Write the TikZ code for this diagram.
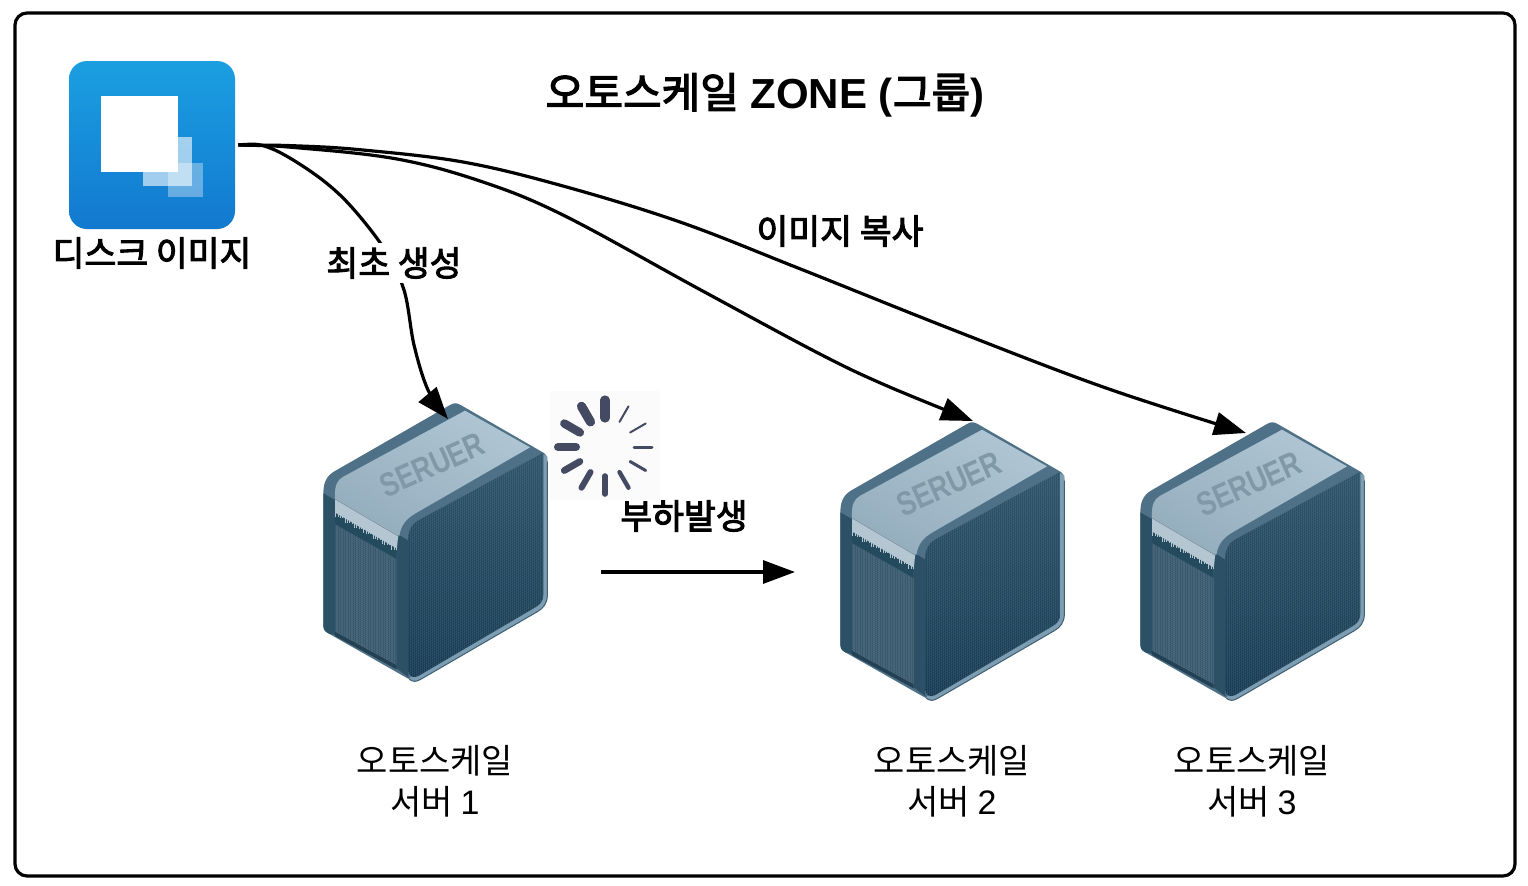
\documentclass[tikz,border=0pt]{standalone}
\usepackage{fontspec}
\setmainfont{Liberation Sans}
\newfontfamily\kr{Noto Sans CJK KR}
\newfontfamily\krb[FakeBold=3]{Noto Sans CJK KR}
\usetikzlibrary{arrows.meta}
\definecolor{spk}{HTML}{454A63}
\tikzset{
  conn/.style={line width=1.6pt,-{Triangle[length=16pt,width=11.5pt]}},
  lab/.style={font=\fontsize{17}{20.5}\selectfont\kr,align=center,inner sep=0pt,text=black},
  blab/.style={font=\fontsize{17.3}{20.5}\selectfont\krb,inner sep=1pt,text=black},
  mesh/.style={white,opacity=.07,line width=.25pt},
}
\newcommand{\srv}[3]{%
\node[minimum width=112pt,minimum height=139pt,inner sep=0pt] (#1) at (#2+435,#3+542) {};
\begin{scope}[shift={(#2+300,#3+390)},x=0.16667pt,y=-0.16667pt]
 % silhouette
 \fill[srvband]
  (70,310) .. controls (70,270) and (85,255) .. (105,243) -- (450,45)
  .. controls (462,38) and (470,38) .. (482,45) -- (725,185)
  .. controls (738,192) and (742,198) .. (742,212) -- (742,615)
  .. controls (742,640) and (730,655) .. (712,665) -- (362,868)
  .. controls (348,876) and (340,876) .. (328,868) -- (85,730)
  .. controls (74,724) and (70,718) .. (70,705) -- cycle;
 % right rim
 \fill[srvrim] (725,190) -- (742,200) -- (742,615) .. controls (742,640) and (730,655) .. (712,665)
  -- (362,868) .. controls (348,876) and (340,876) .. (328,866) -- (340,850) -- (725,625) -- cycle;
 \draw[srvedge,line width=.5pt] (742,215) -- (742,615) .. controls (742,640) and (730,655) .. (712,665)
  -- (362,868) .. controls (348,876) and (340,876) .. (328,868);
 % right face
 \shade[top color=srvfaceA,bottom color=srvfaceB]
  (325,450) .. controls (325,420) and (335,403) .. (352,393) -- (730,188) -- (730,612)
  .. controls (730,632) and (722,643) .. (706,652) -- (355,858) .. controls (340,866) and (325,860) .. (325,840) -- cycle;
 \begin{scope}
  \clip (325,450) .. controls (325,420) and (335,403) .. (352,393) -- (730,188) -- (730,612)
  .. controls (730,632) and (722,643) .. (706,652) -- (355,858) .. controls (340,866) and (325,860) .. (325,840) -- cycle;
  \foreach \gx in {325,331,...,733} \draw[mesh] (\gx,150) -- (\gx,880);
  \foreach \gy in {400,408,...,1120} \draw[mesh] (325,\gy) -- (733,\gy-238);
 \end{scope}
 % left columns
 \fill[srvdark] (70,310) -- (105,330) -- (105,735) -- (85,730) .. controls (74,724) and (70,718) .. (70,705) -- cycle;
 \fill[srvdark] (290,430) -- (325,452) -- (325,862) -- (290,835) -- cycle;
 \fill[srvdark!80!black] (105,725) -- (290,825) -- (290,838) -- (105,738) -- cycle;
 % grille
 \fill[srvgrille] (105,400) -- (290,505) -- (290,825) -- (105,725) -- cycle;
 \begin{scope}
  \clip (105,400) -- (290,505) -- (290,825) -- (105,725) -- cycle;
  \foreach \gx in {108,113,...,290} \draw[mesh] (\gx,380) -- (\gx,840);
  \foreach \gy in {300,306,...,740} \draw[mesh] (105,\gy) -- (290,\gy+105);
 \end{scope}
 % light strip beneath top
 \fill[srvpale] (105,315) -- (295,432) -- (290,482) -- (105,372) -- cycle;
 % vent
 \fill[srvvent] (105,368) -- (290,476) -- (290,507) -- (105,402) -- cycle;
 \foreach \gx in {107,114,...,289} \draw[srvpale,line width=.4pt] (\gx,{366+(\gx-105)*.583}) -- (\gx,{366+(\gx-105)*.583+5+mod(\gx,4)*3});
 % top light face
 \shade[top color=srvtopA,bottom color=srvtopB,shading angle=-30]
  (105,325) .. controls (103,285) and (112,270) .. (130,260) -- (495,62) -- (690,172) -- (350,368)
  .. controls (318,386) and (303,405) .. (298,438) -- cycle;
 \draw[srvtopB!80!black,line width=.3pt] (105,327) -- (296,439);
 \node[rotate=24,inner sep=0pt,text=srvtxt,font=\fontsize{14}{14}\selectfont\bfseries,xscale=.95,yscale=1.2] (#1txt) at (396,225) {SERUER};
\end{scope}}
\definecolor{srvband}{HTML}{4F7187}
\definecolor{srvrim}{HTML}{7C9DB2}
\definecolor{srvedge}{HTML}{3F5F73}
\definecolor{srvfaceA}{HTML}{2B5268}
\definecolor{srvfaceB}{HTML}{143A52}
\definecolor{srvdark}{HTML}{2C5167}
\definecolor{srvgrille}{HTML}{34566A}
\definecolor{srvpale}{HTML}{B4C6D1}
\definecolor{srvvent}{HTML}{244A5E}
\definecolor{srvtopA}{HTML}{AFC5D3}
\definecolor{srvtopB}{HTML}{95AEBE}
\definecolor{srvtxt}{HTML}{8198A9}
\definecolor{dtop}{HTML}{1B9FE1}
\definecolor{dbot}{HTML}{1279CF}
\begin{document}
\begin{tikzpicture}[x=0.5pt,y=-0.5pt]
\useasboundingbox (0,0) rectangle (1528,885);
\fill[white] (0,0) rectangle (1528,885);
\node[draw=black,line width=1.6pt,rounded corners=6pt,minimum width=750pt,minimum height=431.5pt,inner sep=0pt] (zone) at (765,444.5) {};
% disk image
\node[rounded corners=9pt,top color=dtop,bottom color=dbot,minimum width=83pt,minimum height=84pt,inner sep=0pt] (disk) at (152,145) {};
\fill[white,opacity=.6] (143,137) rectangle (192,186);
\fill[white,opacity=.35] (168,163) rectangle (203,197);
\fill[white] (101,96) rectangle (178,172);
\node[blab] (disklab) at (152,253) {디스크 이미지};
\node[font=\fontsize{21}{24}\selectfont\bfseries,inner sep=0pt] (title) at (765,95) {{\mdseries\krb 오토스케일} ZONE ({\mdseries\krb 그룹})};
% servers
\srv{s1}{0}{0}
\srv{s2}{517}{19}
\srv{s3}{817}{19}
\coordinate (tip1) at (448,419);
\coordinate (tip2) at (973,421);
\coordinate (tip3) at (1246,433);
\coordinate (loadA) at (601,572);
\coordinate (loadB) at (795,572);
% connectors
\draw[conn,shorten <=1.5pt] plot[smooth,tension=.55] coordinates {(disk.east) (270,148) (313,173) (347,202) (383,247) (404,290) (414,345) (428,390) (tip1)};
\draw[conn,shorten <=1.5pt] plot[smooth,tension=.6] coordinates {(disk.east) (300,148) (397,159) (480,181) (563,215) (699,289) (818,353) (885,385) (tip2)};
\draw[conn,shorten <=1.5pt] plot[smooth,tension=.6] coordinates {(disk.east) (300,146) (363,150) (463,162) (563,186) (680,222) (798,268) (956,331) (1106,388) (tip3)};
\draw[conn] (loadA) -- (loadB);
\node[blab,fill=white,inner sep=2pt] (first) at (394,263) {최초 생성};
\node[blab] (copy) at (840,231) {이미지 복사};
\node[blab] (load) at (684,516) {부하발생};
% spinner
\fill[black!1.5] (550,391) rectangle (660,500);
\foreach \ang/\wid in {90/4.6,120/4.6,150/4.2,180/4,210/3.4,240/3,270/2.8,300/2.2,330/1.5,0/1.5,30/1,60/1}
  \draw[spk,line width=\wid pt,line cap=round] ({605+29*cos(\ang)},{447-29*sin(\ang)}) -- ++({18*cos(\ang)},{-18*sin(\ang)});
% labels
\node[lab] (l1) at (435,781) {오토스케일\\서버 {\rmfamily 1}};
\node[lab] (l2) at (952,781) {오토스케일\\서버 {\rmfamily 2}};
\node[lab] (l3) at (1252,781) {오토스케일\\서버 {\rmfamily 3}};
\end{tikzpicture}
\end{document}
